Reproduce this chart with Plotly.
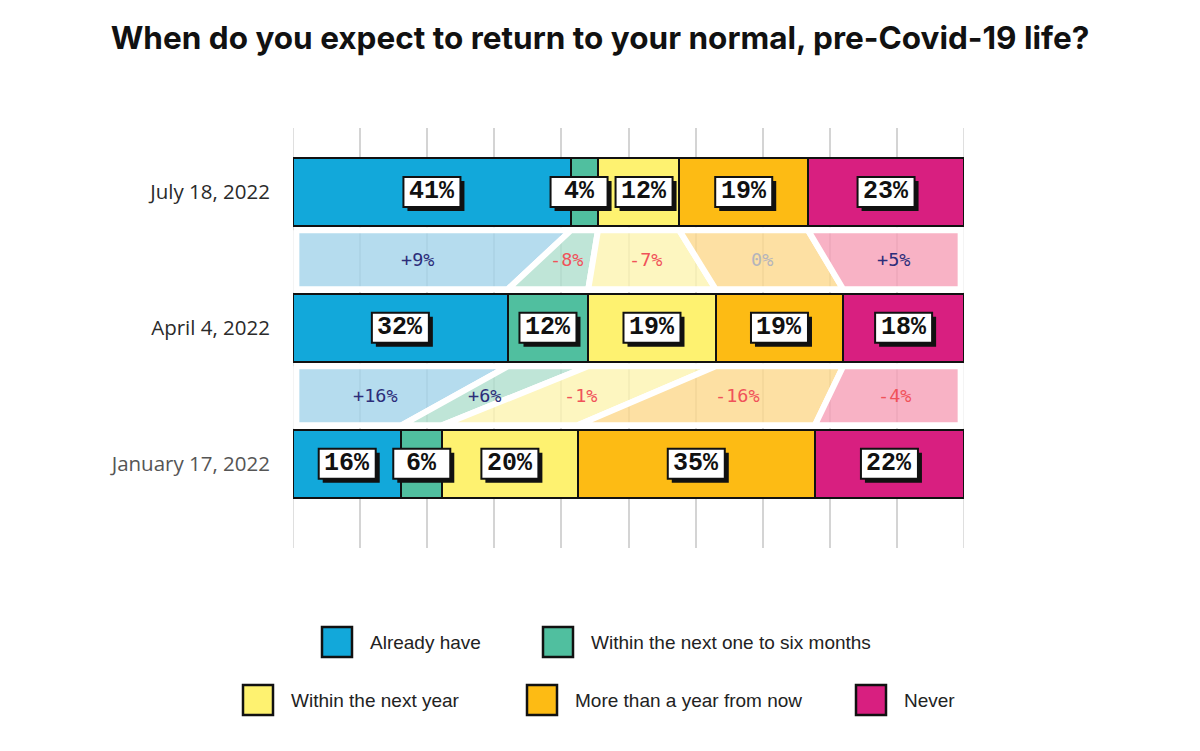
import plotly.graph_objects as go

# ---------------- data ----------------
title = "When do you expect to return to your normal, pre-Covid-19 life?"
dates = ["July 18, 2022", "April 4, 2022", "January 17, 2022"]
categories = ["Already have", "Within the next one to six months",
              "Within the next year", "More than a year from now", "Never"]
july = [41, 4, 12, 19, 23]
april = [32, 12, 19, 19, 18]
january = [16, 6, 20, 35, 22]

colors = ["#12a8da", "#50bf9f", "#fef270", "#fdbb14", "#d81f80"]
light = ["#b5dcee", "#bfe5d7", "#fdf6c0", "#fde0a3", "#f8b2c5"]

rows = [july, april, january]
ypos = [2, 1, 0]

# ---------------- geometry ----------------
OFF = 8                      # page body margin
W, H = 1200 - OFF, 751 - OFF
ML, MR, MT, MB = 293 - OFF, 236, 128 - OFF, 203
PW = W - ML - MR
PH = H - MT - MB
YR = [-0.62, 2.47]
BAR_W = 0.5
px_per_x = PW / 100.0
GRID_COL = "#d4d4d4"


def px2paper_x(px):          # px: page coordinate
    return (px - OFF - ML) / PW


def px2paper_y(py):
    return (H - MB - (py - OFF)) / PH


def rgba_over_white(hexc, alpha=0.8):
    h = hexc.lstrip("#")
    r, g, b = [int(h[i:i + 2], 16) for i in (0, 2, 4)]
    f = lambda c: max(0, min(255, round(255 - (255 - c) / alpha)))
    return f"rgba({f(r)},{f(g)},{f(b)},{alpha})"


# normalised shares and cumulative bounds
shares = [[v / sum(r) * 100 for v in r] for r in rows]
bounds = []
for s in shares:
    acc, b = 0, []
    for v in s:
        b.append((acc, acc + v))
        acc += v
    bounds.append(b)

fig = go.Figure()

# ---------------- connector bands ----------------
gap = 0.033
band_annots = []
for ri in range(len(rows) - 1):
    yu, yl = ypos[ri], ypos[ri + 1]
    yt = yu - BAR_W / 2 - gap
    yb = yl + BAR_W / 2 + gap
    for ci in range(len(categories)):
        a0u, a1u = bounds[ri][ci]
        a0l, a1l = bounds[ri + 1][ci]
        clamp = lambda v: min(max(v, 0.5), 99.5)
        xs = [clamp(a0u), clamp(a1u), clamp(a1l), clamp(a0l), clamp(a0u)]
        ys = [yt, yt, yb, yb, yt]
        fig.add_trace(go.Scatter(
            x=xs, y=ys, mode="lines", fill="toself",
            fillcolor=rgba_over_white(light[ci]),
            line=dict(color="white", width=6),
            hoverinfo="skip", showlegend=False))
        d = rows[ri][ci] - rows[ri + 1][ci]
        if d > 0:
            txt, col = f"+{d}%", "#2c2d7a"
        elif d < 0:
            txt, col = f"-{abs(d)}%", "#f0525a"
        else:
            txt, col = "0%", "#b4b4bc"
        band_annots.append(dict(
            x=sum(xs[:4]) / 4, y=(yt + yb) / 2, text=txt, showarrow=False,
            font=dict(family="DejaVu Sans Mono", size=18.5, color=col),
            xanchor="center", yanchor="middle"))

# ---------------- bars ----------------
for ci, cat in enumerate(categories):
    fig.add_trace(go.Bar(
        x=[shares[ri][ci] for ri in range(len(rows))], y=ypos,
        orientation="h", width=BAR_W, name=cat,
        marker=dict(color=colors[ci], line=dict(color="#111", width=2.5)),
        hoverinfo="skip", showlegend=False))

shapes = []
# edge grid lines (plotly drops grid lines lying on the plot edges)
for gx in (0, 100):
    shapes.append(dict(type="line", xref="x", yref="paper", x0=gx, x1=gx,
                       y0=0, y1=1, line=dict(color=GRID_COL, width=1.5),
                       layer="below"))

# ---------------- value labels (boxes) ----------------
BOX_W, BOX_H, SH = 57, 30, 4
min_sep = (BOX_W + 8) / px_per_x
annots = []
for ri, r in enumerate(rows):
    centers = [(b0 + b1) / 2 for b0, b1 in bounds[ri]]
    for _ in range(10):
        for i in range(len(centers) - 1):
            dd = centers[i + 1] - centers[i]
            if dd < min_sep:
                push = (min_sep - dd) / 2
                centers[i] -= push
                centers[i + 1] += push
    for ci, v in enumerate(r):
        cx = centers[ci]
        shapes.append(dict(
            type="rect", xref="x", yref="y", xsizemode="pixel", ysizemode="pixel",
            xanchor=cx, yanchor=ypos[ri],
            x0=-BOX_W / 2 + SH, x1=BOX_W / 2 + SH,
            y0=-BOX_H / 2 - SH, y1=BOX_H / 2 - SH,
            fillcolor="#111", line=dict(width=0), layer="above"))
        shapes.append(dict(
            type="rect", xref="x", yref="y", xsizemode="pixel", ysizemode="pixel",
            xanchor=cx, yanchor=ypos[ri],
            x0=-BOX_W / 2, x1=BOX_W / 2, y0=-BOX_H / 2, y1=BOX_H / 2,
            fillcolor="white", line=dict(color="#111", width=2), layer="above"))
        annots.append(dict(
            x=cx, y=ypos[ri], text=f"{v}%", showarrow=False,
            font=dict(family="Liberation Mono", size=25, color="#111", weight="bold"),
            xanchor="center", yanchor="middle"))

# ---------------- custom legend ----------------
legend_pos = [(322, 642), (543, 642), (243, 700), (527, 700), (856, 700)]
LB = 30
for ci, cat in enumerate(categories):
    lx, ly = legend_pos[ci]
    shapes.append(dict(
        type="rect", xref="paper", yref="paper",
        x0=px2paper_x(lx), x1=px2paper_x(lx + LB),
        y0=px2paper_y(ly + LB / 2), y1=px2paper_y(ly - LB / 2),
        fillcolor=colors[ci], line=dict(color="#111", width=2.5)))
    annots.append(dict(
        x=px2paper_x(lx + LB + 16), y=px2paper_y(ly), xref="paper", yref="paper",
        text=cat, showarrow=False, xanchor="left", yanchor="middle",
        font=dict(family="Liberation Sans", size=19, color="#222")))

ticktext = [d if i < 2 else f"<span style='color:#555'>{d}</span>"
            for i, d in enumerate(dates)]

fig.update_layout(
    width=W, height=H,
    margin=dict(l=ML, r=MR, t=MT, b=MB),
    paper_bgcolor="white", plot_bgcolor="white",
    barmode="stack", bargap=0,
    title=dict(text=title, x=(600 - OFF) / W, xref="container", xanchor="center",
               y=1 - (38 - OFF) / H, yref="container", yanchor="middle",
               font=dict(family="Inter", size=31.5, color="#111", weight="bold")),
    xaxis=dict(range=[0, 100], dtick=10, tick0=0, showticklabels=False,
               showgrid=True, gridcolor=GRID_COL, gridwidth=1.5,
               zeroline=False, showline=False, fixedrange=True),
    yaxis=dict(range=YR, tickvals=ypos, ticktext=ticktext, showgrid=False,
               zeroline=False, showline=False, ticklabelstandoff=22,
               tickfont=dict(family="Open Sans", size=20.5, color="#2a2a2a"),
               fixedrange=True),
    shapes=shapes,
    annotations=band_annots + annots,
    font=dict(family="Open Sans"),
)

fig.write_html("out.html")
